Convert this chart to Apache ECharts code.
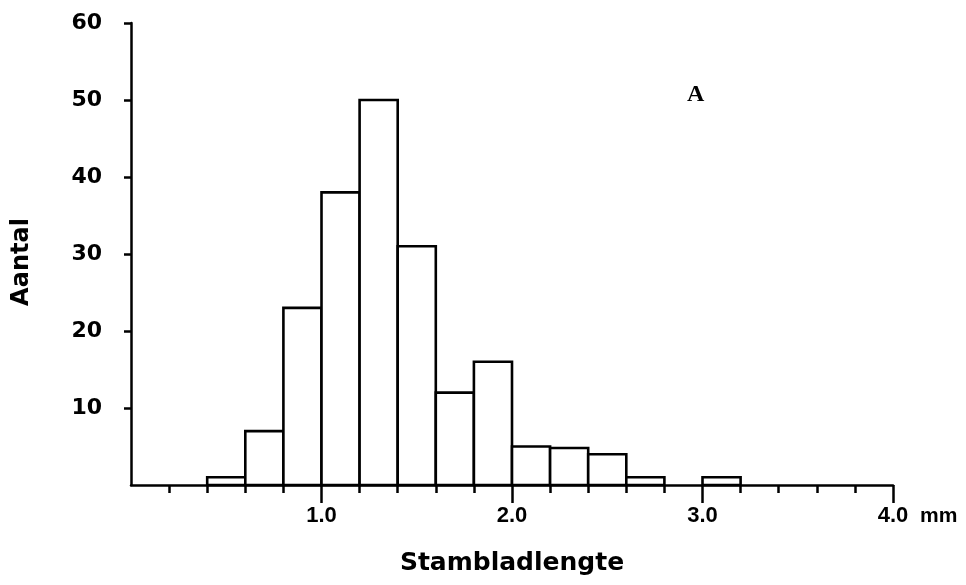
<!DOCTYPE html>
<html>
<head>
<meta charset="utf-8">
<script src="https://cdn.jsdelivr.net/npm/echarts@6/dist/echarts.min.js"></script>
<style>
	html, body { margin: 0; padding: 0; background: #fff; }
	#chart { width: 966px; height: 585px; }
</style>
</head>
<body>
<div id="chart"></div>
<script>
// histogram bins (mm) and counts
const binStarts = [0.4, 0.6, 0.8, 1.0, 1.2, 1.4, 1.6, 1.8, 2.0, 2.2, 2.4, 2.6, 2.8, 3.0];
const binWidth = 0.2;
const counts = [1, 7, 23, 38, 50, 31, 12, 16, 5, 4.8, 4, 1, 0, 1];

const xTicks = [1, 2, 3, 4];
const yTicks = [10, 20, 30, 40, 50, 60];

const ink = '#000';

let data = [];
for (let [i, s] of binStarts.entries()) {
	data.push([s, s + binWidth, counts[i]]);
}

const renderBar = (params, api) => {
	let v = api.value(2);
	if (!v) return null;
	let p0 = api.coord([api.value(0), 0]);
	let p1 = api.coord([api.value(1), v]);
	return {
		type: 'rect',
		shape: { x: p0[0], y: p1[1], width: p1[0] - p0[0], height: p0[1] - p1[1] },
		style: { fill: '#fff', stroke: ink, lineWidth: 2.6 },
	};
};

let myChart = echarts.init(document.getElementById('chart'), null, { renderer: 'canvas' });

let option = {
	backgroundColor: '#fff',
	animation: false,
	grid: { left: 131, right: 73, top: 23, bottom: 100 },
	xAxis: {
		type: 'value',
		min: 0,
		max: 4,
		interval: 1,
		name: 'Stambladlengte',
		nameLocation: 'middle',
		nameGap: 66,
		nameTextStyle: { fontFamily: 'DejaVu Sans', fontWeight: 'bold', fontSize: 25, color: ink },
		axisLine: { lineStyle: { color: ink, width: 2.5 } },
		axisTick: { customValues: xTicks, length: 18, lineStyle: { color: ink, width: 2.5 } },
		minorTick: { show: true, splitNumber: 5, length: 8, lineStyle: { color: ink, width: 2.5 } },
		splitLine: { show: false },
		axisLabel: {
			customValues: xTicks,
			margin: 20,
			formatter: (v) => v.toFixed(1),
			fontFamily: 'Liberation Sans',
			fontWeight: 'bold',
			fontSize: 22,
			color: ink,
		},
	},
	yAxis: {
		type: 'value',
		min: 0,
		max: 60,
		interval: 10,
		name: 'Aantal',
		nameLocation: 'middle',
		nameGap: 97,
		nameTextStyle: {
			fontFamily: 'DejaVu Sans',
			fontWeight: 'bold',
			fontSize: 24,
			color: ink,
			padding: [0, 16, 0, 0],
		},
		axisLine: { show: true, lineStyle: { color: ink, width: 2.5 } },
		axisTick: { show: true, customValues: yTicks, length: 7, lineStyle: { color: ink, width: 2.5 } },
		splitLine: { show: false },
		axisLabel: {
			customValues: yTicks,
			margin: 29,
			fontFamily: 'DejaVu Sans',
			fontWeight: 'bold',
			fontSize: 22,
			color: ink,
		},
	},
	graphic: [
		{
			type: 'text',
			left: 687,
			top: 83,
			style: { text: 'A', fontFamily: 'Liberation Serif', fontWeight: 'bold', fontSize: 24, fill: ink },
		},
		{
			type: 'text',
			left: 920,
			top: 506,
			style: { text: 'mm', fontFamily: 'Liberation Sans', fontWeight: 'bold', fontSize: 21, fill: ink },
		},
	],
	series: [
		{
			type: 'custom',
			renderItem: renderBar,
			encode: { x: [0, 1], y: 2 },
			data: data,
		},
	],
};

myChart.setOption(option, true);
window.addEventListener('resize', () => {
	myChart.resize();
});
</script>
</body>
</html>
